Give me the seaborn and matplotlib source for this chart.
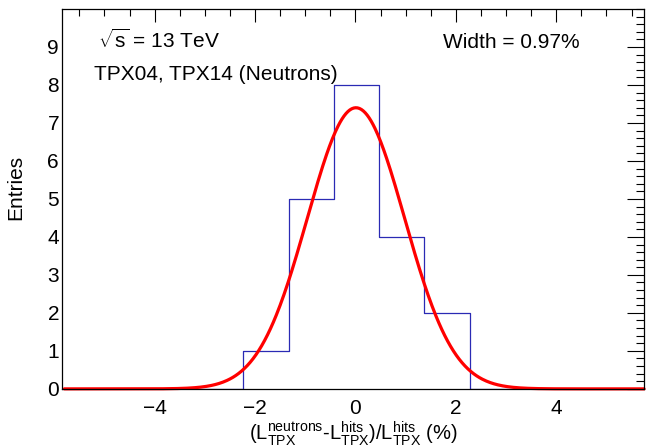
import numpy as np
import pandas as pd
import matplotlib
matplotlib.use('Agg')
import matplotlib.pyplot as plt
from matplotlib.ticker import MultipleLocator
import seaborn as sns

# histogram contents (outer bins are empty)
bin_edges = [-3.15, -2.25, -1.33, -0.43, 0.47, 1.37, 2.28, 3.18]
bin_counts = [0, 1, 5, 8, 4, 2, 0]

# gaussian fit parameters
fit_amp = 7.4
fit_mean = 0.01
fit_sigma = 0.97

x_range = (-5.85, 5.75)
y_range = (0, 10)

sns.set_theme(style='white')
plt.rcParams['font.family'] = ['Liberation Sans', 'DejaVu Sans']
plt.rcParams['mathtext.fontset'] = 'custom'
plt.rcParams['mathtext.rm'] = 'Liberation Sans'
plt.rcParams['mathtext.it'] = 'Liberation Sans'
plt.rcParams['text.color'] = 'black'
plt.rcParams['axes.labelcolor'] = 'black'

centers = [(bin_edges[i] + bin_edges[i + 1]) / 2 for i in range(len(bin_counts))]
df = pd.DataFrame({'x': centers, 'n': bin_counts})

fig = plt.figure(figsize=(6.47, 4.48), dpi=100)
ax = fig.add_axes([0.0955, 0.132, 0.900, 0.848])

sns.histplot(data=df, x='x', weights='n', bins=bin_edges, element='step',
             fill=False, color='#2a2ab4', linewidth=0.9, ax=ax)

xs = np.linspace(-5.8, x_range[1], 600)
fit = pd.DataFrame({'x': xs, 'y': fit_amp * np.exp(-0.5 * ((xs - fit_mean) / fit_sigma) ** 2)})
sns.lineplot(data=fit, x='x', y='y', color='red', linewidth=2.3, ax=ax, clip_on=False)

ax.set_xlim(*x_range)
ax.set_ylim(*y_range)

ax.xaxis.set_major_locator(MultipleLocator(2))
ax.xaxis.set_minor_locator(MultipleLocator(0.5))
ax.yaxis.set_minor_locator(MultipleLocator(0.2))
ax.set_yticks(range(0, 10))
ax.tick_params(which='both', direction='in', top=True, right=True, labelsize=15,
               color='black', labelcolor='black', width=0.8)
ax.tick_params(axis='x', which='major', length=9, pad=7)
ax.tick_params(axis='x', which='minor', length=5)
ax.tick_params(axis='y', which='major', length=12, pad=2)
ax.tick_params(axis='y', which='minor', length=6)
for s in ax.spines.values():
    s.set_color('black')
    s.set_linewidth(0.9)

ax.set_ylabel('Entries', fontsize=15)
ax.yaxis.set_label_coords(-0.062, 0.53)
ax.set_xlabel(r'(L$_{\mathrm{TPX}}^{\mathrm{neutrons}}$-L$_{\mathrm{TPX}}^{\mathrm{hits}}$)/L$_{\mathrm{TPX}}^{\mathrm{hits}}$ (%)',
              fontsize=14.5, labelpad=1)

ax.text(0.062, 0.898, r'$\sqrt{\mathrm{s}}$ = 13 TeV', transform=ax.transAxes, fontsize=15)
ax.text(0.655, 0.898, 'Width = 0.97%', transform=ax.transAxes, fontsize=15)
ax.text(0.055, 0.812, 'TPX04, TPX14 (Neutrons)', transform=ax.transAxes, fontsize=15)

plt.savefig('out.png', dpi=100)
